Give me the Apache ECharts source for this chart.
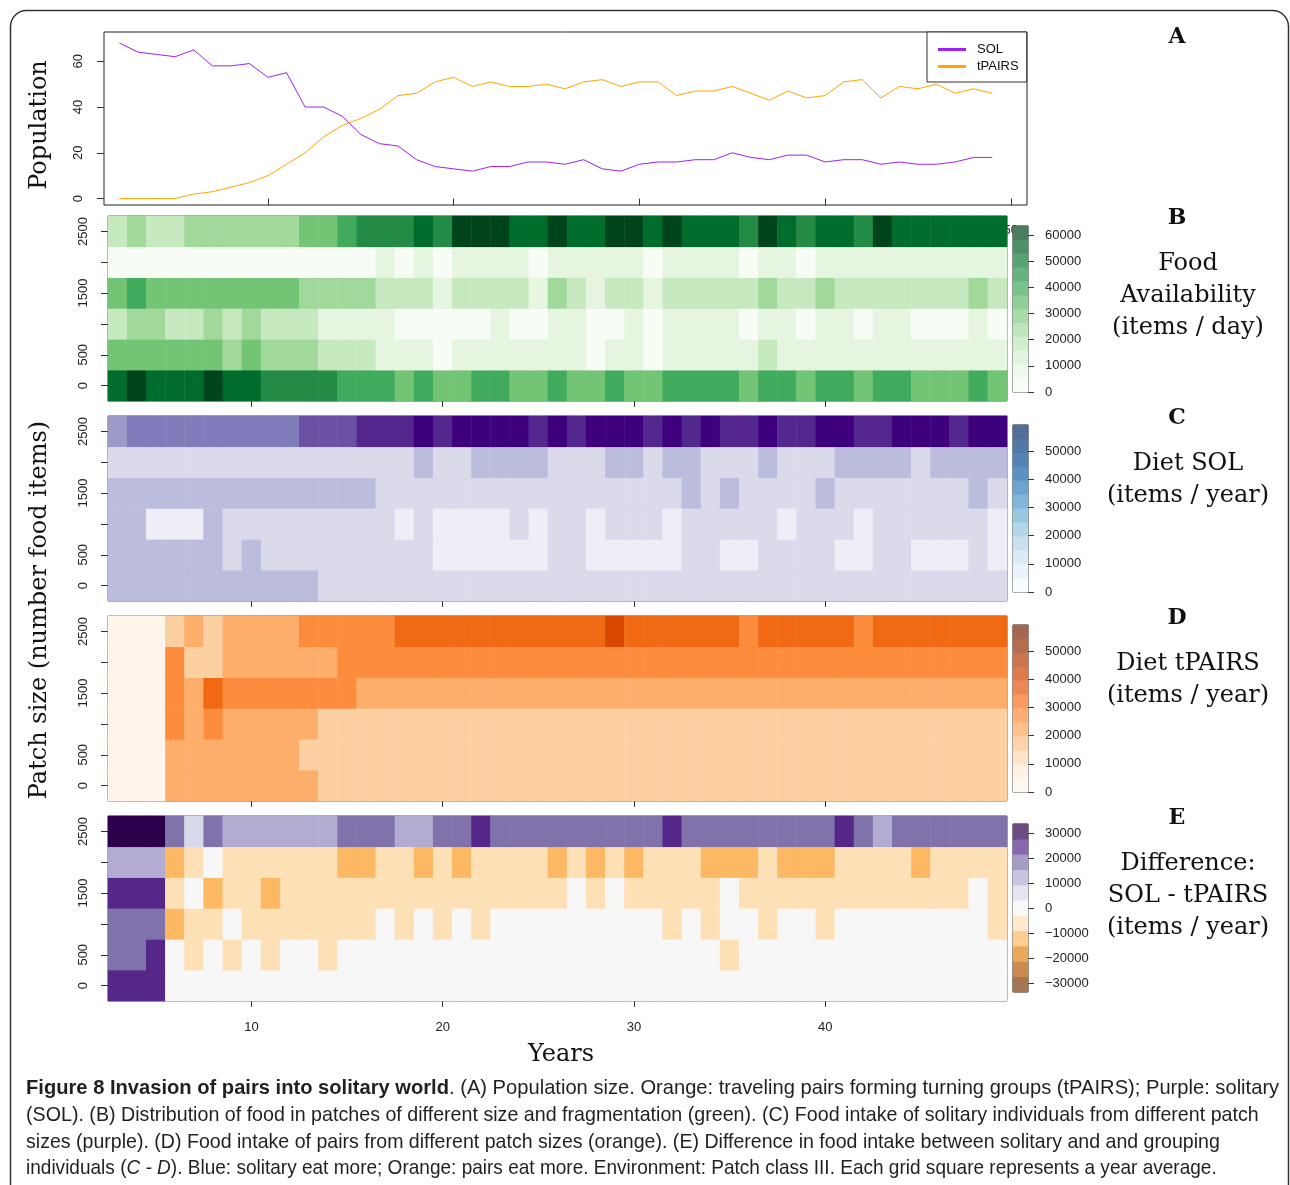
<!DOCTYPE html>
<html>
<head>
<meta charset="utf-8">
<title>Invasion of pairs into solitary world</title>
<script src="https://cdn.jsdelivr.net/npm/echarts@6/dist/echarts.min.js"></script>
<style>
  html, body { margin: 0; padding: 0; background: #fff; }
  #chart { width: 1290px; height: 1185px; }
</style>
</head>
<body>
<div id="chart"></div>
<script>
// ---- panel A: population per year ----
const popYears = [2,3,4,5,6,7,8,9,10,11,12,13,14,15,16,17,18,19,20,21,22,23,24,25,26,27,28,29,30,31,32,33,34,35,36,37,38,39,40,41,42,43,44,45,46,47,48,49];
const solPop   = [68,64,63,62,65,58,58,59,53,55,40,40,36,28,24,23,17,14,13,12,14,14,16,16,15,17,13,12,15,16,16,17,17,20,18,17,19,19,16,17,17,15,16,15,15,16,18,18];
const pairsPop = [0,0,0,0,2,3,5,7,10,15,20,27,32,35,39,45,46,51,53,49,51,49,49,50,48,51,52,49,51,51,45,47,47,49,46,43,47,44,45,51,52,44,49,48,50,46,48,46];

// ---- heatmaps: one column per year, one row per patch size ----
const heatYears = [3,4,5,6,7,8,9,10,11,12,13,14,15,16,17,18,19,20,21,22,23,24,25,26,27,28,29,30,31,32,33,34,35,36,37,38,39,40,41,42,43,44,45,46,47,48,49];
const patchSizes = [0, 500, 1000, 1500, 2000, 2500];

// B: food availability (thousand items / day)
const food0K    = [52,59,52,52,52,59,52,52,45,45,45,45,38,38,38,31,38,31,31,38,38,31,31,38,31,31,38,31,31,38,38,38,38,31,38,38,31,38,38,31,38,38,31,31,31,38,31];
const food500K  = [31,31,31,31,31,31,24,31,24,24,24,17,17,17,10,10,10,3,10,10,10,10,10,10,10,3,10,10,3,10,10,10,10,10,17,10,10,10,10,10,10,10,10,10,10,10,10];
const food1000K = [17,24,24,17,17,24,17,24,17,17,17,10,10,10,10,3,3,3,3,3,10,3,3,10,10,3,3,10,3,10,10,10,10,3,10,10,3,10,10,3,10,10,3,3,3,10,3];
const food1500K = [31,38,31,31,31,31,31,31,31,31,24,24,24,24,17,17,17,10,17,17,17,17,10,24,17,10,17,17,10,17,17,17,17,17,24,17,17,24,17,17,17,17,17,17,17,24,17];
const food2000K = [3,3,3,3,3,3,3,3,3,3,3,3,3,3,10,3,10,3,10,10,10,10,3,10,10,10,10,10,3,10,10,10,10,3,10,10,3,10,10,10,10,10,10,10,10,10,10];
const food2500K = [17,24,17,17,24,24,24,24,24,24,31,31,38,45,45,45,52,45,59,59,59,52,52,59,52,52,59,59,52,59,52,52,52,45,59,52,45,52,52,45,59,52,52,52,52,52,52];

// C: diet of solitary (thousand items / year)
const sol0K    = [23,23,23,23,23,23,23,23,23,23,23,16,16,16,16,16,16,16,16,16,16,16,16,16,16,16,16,16,16,16,16,16,16,16,16,16,16,16,16,16,16,16,16,16,16,16,16];
const sol500K  = [23,23,23,23,23,23,16,23,16,16,16,16,16,16,16,16,16,10,10,10,10,10,10,16,16,10,10,10,10,10,16,16,10,10,16,16,16,16,10,10,16,16,10,10,10,16,10];
const sol1000K = [23,23,10,10,10,23,16,16,16,16,16,16,16,16,16,10,16,10,10,10,10,16,10,16,16,10,16,16,16,10,16,16,16,16,16,10,16,16,16,10,16,16,16,16,16,16,10];
const sol1500K = [23,23,23,23,23,23,23,23,23,23,23,23,23,23,16,16,16,16,16,16,16,16,16,16,16,16,16,16,16,16,23,16,23,16,16,16,16,23,16,16,16,16,16,16,16,23,16];
const sol2000K = [16,16,16,16,16,16,16,16,16,16,16,16,16,16,16,16,23,16,16,23,23,23,23,16,16,16,23,23,16,23,23,16,16,16,23,16,16,16,23,23,23,23,16,23,23,23,23];
const sol2500K = [29,36,36,36,36,36,36,36,36,36,42,42,42,49,49,49,55,49,55,55,55,55,49,55,49,55,55,55,49,55,49,55,49,49,55,49,49,55,55,49,49,55,55,55,49,55,55];

// D: diet of travelling pairs (thousand items / year)
const pairs0K    = [3,3,3,23,23,23,23,23,23,23,23,16,16,16,16,16,16,16,16,16,16,16,16,16,16,16,16,16,16,16,16,16,16,16,16,16,16,16,16,16,16,16,16,16,16,16,16];
const pairs500K  = [3,3,3,23,23,23,23,23,23,23,16,16,16,16,16,16,16,16,16,16,16,16,16,16,16,16,16,16,16,16,16,16,16,16,16,16,16,16,16,16,16,16,16,16,16,16,16];
const pairs1000K = [3,3,3,29,23,29,23,23,23,23,23,16,16,16,16,16,16,16,16,16,16,16,16,16,16,16,16,16,16,16,16,16,16,16,16,16,16,16,16,16,16,16,16,16,16,16,16];
const pairs1500K = [3,3,3,29,23,36,29,29,29,29,29,29,29,23,23,23,23,23,23,23,23,23,23,23,23,23,23,23,23,23,23,23,23,23,23,23,23,23,23,23,23,23,23,23,23,23,23];
const pairs2000K = [3,3,3,29,16,16,23,23,23,23,23,23,29,29,29,29,29,29,29,29,29,29,29,29,29,29,29,29,29,29,29,29,29,29,29,29,29,29,29,29,29,29,29,29,29,29,29];
const pairs2500K = [3,3,3,16,23,16,23,23,23,23,29,29,29,29,29,36,36,36,36,36,36,36,36,36,36,36,42,36,36,36,36,36,36,29,36,36,36,36,36,29,36,36,36,36,36,36,36];

// E: difference SOL - tPAIRS (thousand items / year)
const diff0K    = [24,24,24,0,0,0,0,0,0,0,0,0,0,0,0,0,0,0,0,0,0,0,0,0,0,0,0,0,0,0,0,0,0,0,0,0,0,0,0,0,0,0,0,0,0,0,0];
const diff500K  = [18,18,24,0,-6,0,-6,0,-6,0,0,-6,0,0,0,0,0,0,0,0,0,0,0,0,0,0,0,0,0,0,0,0,-6,0,0,0,0,0,0,0,0,0,0,0,0,0,0];
const diff1000K = [18,18,18,-12,-6,-6,0,-6,-6,-6,-6,-6,-6,-6,0,-6,0,-6,0,-6,0,0,0,0,0,0,0,0,0,-6,0,-6,0,0,-6,0,0,-6,0,0,0,0,0,0,0,0,-6];
const diff1500K = [24,24,24,-6,0,-12,-6,-6,-12,-6,-6,-6,-6,-6,-6,-6,-6,-6,-6,-6,-6,-6,-6,-6,0,-6,0,-6,-6,-6,-6,-6,0,-6,-6,-6,-6,-6,-6,-6,-6,-6,-6,-6,-6,0,-6];
const diff2000K = [12,12,12,-12,-6,0,-6,-6,-6,-6,-6,-6,-12,-12,-6,-6,-12,-6,-12,-6,-6,-6,-6,-12,-6,-12,-6,-12,-6,-6,-6,-12,-12,-12,-6,-12,-12,-12,-6,-6,-6,-6,-12,-6,-6,-6,-6];
const diff2500K = [30,30,30,18,6,18,12,12,12,12,12,12,18,18,18,12,12,18,18,24,18,18,18,18,18,18,18,18,18,24,18,18,18,18,18,18,18,18,24,18,12,18,18,18,18,18,18];

// colour classes (thousand items)
const foodBreaks = [0,7,14,21,28,35,42,49,56,63.5];
const dietBreaks = [0,6.5,13,19.5,26,32.5,39,45.5,52,59.3];
const diffBreaks = [-33.6,-27.5,-21.4,-15.3,-9.2,-3.1,3.1,9.2,15.3,21.4,27.5,33.6];

const greens  = ['#F7FCF5','#E5F5E0','#C7E9C0','#A1D99B','#74C476','#41AB5D','#238B45','#006D2C','#00441B'];
const purples = ['#FCFBFD','#EFEDF5','#DADAEB','#BCBDDC','#9E9AC8','#807DBA','#6A51A3','#54278F','#3F007D'];
const oranges = ['#FFF5EB','#FEE6CE','#FDD0A2','#FDAE6B','#FD8D3C','#F16913','#D94801','#A63603','#7F2704'];
const puor    = ['#7F3B08','#B35806','#E08214','#FDB863','#FEE0B6','#F7F7F7','#D8DAEB','#B2ABD2','#8073AC','#542788','#2D004B'];

// colour bars (bottom to top)
const barGreen  = ['#F9FDF8','#F0F9ED','#E3F4DF','#D3EECE','#C0E5BB','#A9DBA8','#91CF99','#78C28C','#68B280','#58A273','#4D9168','#4C7C5F'];
const barBlue   = ['#F9FCFF','#EBF3FA','#DCE9F6','#C9E0F0','#B2D5EA','#98C7E2','#80B7D9','#6CA5D0','#5B92C4','#5283B6','#5278A7','#526E97'];
const barOrange = ['#FFF8F1','#FEF0E2','#FEE3C8','#FED3AC','#FEC08D','#FEAD74','#F99A60','#EE8753','#DD7B4D','#CB754E','#B66D4F','#A5684F'];
const barPuOr   = ['#A57652','#CA8A51','#E9A85A','#FECD92','#FEE9CC','#F9F9F9','#E4E5F1','#C9C4E0','#A69DC5','#8768AC','#6C4C81'];

const foodRows  = [food0K, food500K, food1000K, food1500K, food2000K, food2500K];
const solRows   = [sol0K, sol500K, sol1000K, sol1500K, sol2000K, sol2500K];
const pairsRows = [pairs0K, pairs500K, pairs1000K, pairs1500K, pairs2000K, pairs2500K];
const diffRows  = [diff0K, diff500K, diff1000K, diff1500K, diff2000K, diff2500K];

function cells(rows) {
  const out = [];
  rows.forEach((row, r) => row.forEach((v, c) => out.push([c, r, v])));
  return out;
}
function pieces(breaks, colors) {
  return colors.map((c, i) => ({ gte: breaks[i], lt: breaks[i + 1], color: c }));
}

const chart = echarts.init(document.getElementById('chart'));

const SANS = 'Liberation Sans';
const SERIF = 'DejaVu Serif';
const heatTops = [216, 416, 616, 816];
const barBoxes = [
  { top: 226, height: 166, min: 0, max: 63440, colors: barGreen },
  { top: 425, height: 167, min: 0, max: 59200, colors: barBlue },
  { top: 625, height: 167, min: 0, max: 59200, colors: barOrange },
  { top: 824, height: 168, min: -33600, max: 33600, colors: barPuOr }
];
const panelRows = [foodRows, solRows, pairsRows, diffRows];
const panelPieces = [
  pieces(foodBreaks, greens),
  pieces(dietBreaks, purples),
  pieces(dietBreaks, oranges),
  pieces(diffBreaks, puor)
];

const tickStyle = { color: '#333', width: 1 };
const labelStyle = { color: '#222', fontSize: 13, fontFamily: SANS };

const grid = [{ left: 104, top: 32, width: 923, height: 173, show: true, borderColor: '#222', borderWidth: 1 }];
heatTops.forEach(t => grid.push({ left: 108, top: t, width: 899, height: 185, show: true, borderColor: '#555', borderWidth: 1 }));
barBoxes.forEach(b => grid.push({ left: 1013, top: b.top, width: 15, height: b.height, show: true, borderColor: '#222', borderWidth: 1 }));

const xAxis = [{
  type: 'value', gridIndex: 0, min: 1.17, max: 50.87,
  axisLine: { show: false }, splitLine: { show: false },
  axisTick: { show: true, length: 7, lineStyle: tickStyle, customValues: [10, 20, 30, 40, 50] },
  axisLabel: Object.assign({ margin: 19, customValues: [10, 20, 30, 40, 50] }, labelStyle)
}];
heatTops.forEach((t, k) => xAxis.push({
  type: 'category', gridIndex: k + 1, data: heatYears.map(String),
  axisLine: { show: false }, splitLine: { show: false },
  axisTick: { show: true, alignWithLabel: true, length: 6, lineStyle: tickStyle, interval: (i, v) => +v % 10 === 0 },
  axisLabel: Object.assign({ show: k === 3, margin: 20, interval: (i, v) => +v % 10 === 0 }, labelStyle)
}));
barBoxes.forEach((b, k) => xAxis.push({ type: 'category', gridIndex: k + 5, data: ['bar'], show: false }));

const yAxis = [{
  type: 'value', gridIndex: 0, min: -2.8, max: 72.8,
  axisLine: { show: false }, splitLine: { show: false },
  axisTick: { show: true, length: 7, lineStyle: tickStyle, customValues: [0, 20, 40, 60] },
  axisLabel: Object.assign({ rotate: 90, margin: 19, customValues: [0, 20, 40, 60] }, labelStyle)
}];
heatTops.forEach((t, k) => yAxis.push({
  type: 'category', gridIndex: k + 1, data: patchSizes.map(String),
  axisLine: { show: false }, splitLine: { show: false },
  axisTick: { show: true, alignWithLabel: true, length: 7, interval: 0, lineStyle: tickStyle },
  axisLabel: Object.assign({ rotate: 90, margin: 18, interval: (i, v) => ['0', '500', '1500', '2500'].includes(v) }, labelStyle)
}));
barBoxes.forEach((b, k) => yAxis.push({ type: 'category', gridIndex: k + 5, data: b.colors.map((c, i) => String(i)), show: false }));
barBoxes.forEach((b, k) => {
  const ticks = k === 3 ? [-30000, -20000, -10000, 0, 10000, 20000, 30000]
              : k === 0 ? [0, 10000, 20000, 30000, 40000, 50000, 60000]
              : [0, 10000, 20000, 30000, 40000, 50000];
  yAxis.push({
    type: 'value', gridIndex: k + 5, position: 'right', min: b.min, max: b.max,
    axisLine: { show: false }, splitLine: { show: false },
    axisTick: { show: true, length: 6, lineStyle: tickStyle, customValues: ticks },
    axisLabel: Object.assign({ margin: 17, customValues: ticks,
      formatter: v => (v < 0 ? '\u2212' + (-v) : String(v)) }, labelStyle)
  });
});

const series = [
  { name: 'SOL', type: 'line', xAxisIndex: 0, yAxisIndex: 0, showSymbol: false, silent: true,
    data: popYears.map((y, i) => [y, solPop[i]]), lineStyle: { color: '#A020F0', width: 1 }, itemStyle: { color: '#A020F0' } },
  { name: 'tPAIRS', type: 'line', xAxisIndex: 0, yAxisIndex: 0, showSymbol: false, silent: true,
    data: popYears.map((y, i) => [y, pairsPop[i]]), lineStyle: { color: '#FFA500', width: 1 }, itemStyle: { color: '#FFA500' } }
];
panelRows.forEach((rows, k) => series.push({
  type: 'heatmap', xAxisIndex: k + 1, yAxisIndex: k + 1, data: cells(rows),
  silent: true, emphasis: { disabled: true }, itemStyle: { borderWidth: 0 }
}));
barBoxes.forEach((b, k) => series.push({
  type: 'heatmap', xAxisIndex: k + 5, yAxisIndex: k + 5,
  data: b.colors.map((c, i) => [0, i, i]),
  silent: true, emphasis: { disabled: true }
}));

const visualMap = [];
panelPieces.forEach((p, k) => visualMap.push({ type: 'piecewise', show: false, seriesIndex: k + 2, dimension: 2, pieces: p }));
barBoxes.forEach((b, k) => visualMap.push({
  type: 'piecewise', show: false, seriesIndex: k + 6, dimension: 2,
  pieces: b.colors.map((c, i) => ({ value: i, color: c }))
}));

function txt(x, y, text, font, extra) {
  return Object.assign({
    type: 'text', x: x, y: y, silent: true,
    style: { text: text, font: font, fill: '#111', align: 'center', verticalAlign: 'middle',
             textAlign: 'center', textVerticalAlign: 'middle' }
  }, extra || {});
}

const serifBig = '24px "' + SERIF + '"';
const serifBold = 'bold 22px "' + SERIF + '"';
const capFont = 21;
const capRich = {
  b: { fontWeight: 'bold', fontSize: capFont, fontFamily: SANS, fill: '#231F20' },
  i: { fontStyle: 'italic', fontSize: capFont, fontFamily: SANS, fill: '#231F20' }
};
function capLine(y, sx, text) {
  return {
    type: 'text', x: 26, y: y, scaleX: sx, silent: true,
    style: { text: text, fontSize: capFont, fontFamily: SANS, fill: '#231F20',
             align: 'left', verticalAlign: 'middle', textAlign: 'left', textVerticalAlign: 'middle', rich: capRich }
  };
}

const graphic = [
  { type: 'rect', silent: true, z: -10, shape: { x: 10.5, y: 10.5, width: 1278, height: 1220, r: 16 },
    style: { fill: 'none', stroke: '#333', lineWidth: 1.5 } },
  txt(40, 125, 'Population', serifBig, { rotation: Math.PI / 2 }),
  txt(40, 610, 'Patch size (number food items)', serifBig, { rotation: Math.PI / 2 }),
  txt(561, 1055, 'Years', serifBig),
  txt(1177, 37, 'A', serifBold), txt(1177, 218, 'B', serifBold), txt(1177, 418, 'C', serifBold),
  txt(1177, 618, 'D', serifBold), txt(1177, 818, 'E', serifBold),
  txt(1188, 264, 'Food', serifBig), txt(1188, 296, 'Availability', serifBig), txt(1188, 328, '(items / day)', serifBig),
  txt(1188, 464, 'Diet SOL', serifBig), txt(1188, 496, '(items / year)', serifBig),
  txt(1188, 664, 'Diet tPAIRS', serifBig), txt(1188, 696, '(items / year)', serifBig),
  txt(1188, 864, 'Difference:', serifBig), txt(1188, 896, 'SOL - tPAIRS', serifBig), txt(1188, 928, '(items / year)', serifBig),
  capLine(1088, 0.959, '{b|Figure 8 Invasion of pairs into solitary world}. (A) Population size. Orange: traveling pairs forming turning groups (tPAIRS); Purple: solitary'),
  capLine(1115, 0.936, '(SOL). (B) Distribution of food in patches of different size and fragmentation (green). (C) Food intake of solitary individuals from different patch'),
  capLine(1142, 0.932, 'sizes (purple). (D) Food intake of pairs from different patch sizes (orange). (E) Difference in food intake between solitary and and grouping'),
  capLine(1168, 0.906, 'individuals ({i|C - D}). Blue: solitary eat more; Orange: pairs eat more. Environment: Patch class III. Each grid square represents a year average.')
];

chart.setOption({
  animation: false,
  backgroundColor: '#fff',
  grid: grid,
  xAxis: xAxis,
  yAxis: yAxis,
  visualMap: visualMap,
  legend: {
    data: ['SOL', 'tPAIRS'], orient: 'vertical', left: 927, top: 32,
    icon: 'rect', itemWidth: 28, itemHeight: 3, itemGap: 4,
    padding: [11, 8, 9, 11], borderColor: '#333', borderWidth: 1, backgroundColor: '#fff',
    textStyle: { fontSize: 13, fontFamily: SANS, color: '#111', padding: [0, 0, 0, 6] },
    selectedMode: false
  },
  series: series,
  graphic: graphic
});
</script>
</body>
</html>
